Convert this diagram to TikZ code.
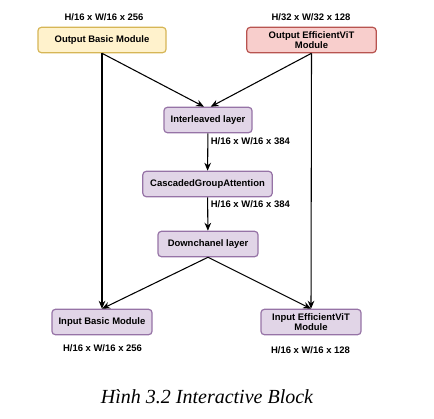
\documentclass[tikz,border=0pt]{standalone}
\usepackage{fontspec}
\setmainfont{Liberation Serif}
\setsansfont{Liberation Sans}
\usetikzlibrary{positioning, arrows.meta}
\definecolor{ylwfill}{HTML}{FFF2CC}
\definecolor{ylwline}{HTML}{D6B656}
\definecolor{redfill}{HTML}{F8CECC}
\definecolor{redline}{HTML}{B85450}
\definecolor{prpfill}{HTML}{E1D5E7}
\definecolor{prpline}{HTML}{9673A6}

\begin{document}
\begin{tikzpicture}[x=0.75pt, y=-0.75pt, ->, >={Stealth[length=6pt, width=5pt]}, thick,
  blk/.style={rectangle, rounded corners=2.5pt, draw=prpline, fill=prpfill, line width=0.9pt,
    font=\fontsize{7.1}{7.9}\selectfont\sffamily\bfseries, align=center, inner sep=1pt,
    minimum height=19pt, minimum width=75pt},
  dim/.style={font=\fontsize{7.1}{8}\selectfont\sffamily\bfseries, inner sep=1pt}]
  \useasboundingbox (0,0) rectangle (434,418);
  % top modules
  \node[blk, draw=ylwline, fill=ylwfill, minimum width=96pt] (obm) at (102,40) {Output Basic Module};
  \node[blk, draw=redline, fill=redfill, minimum width=97pt] (oev) at (311.5,40) {Output EfficientViT\\Module};
  \node[dim] (obmdim) at (104,17) {H/16 x W/16 x 256};
  \node[dim] (oevdim) at (311,17) {H/32 x W/32 x 128};
  % middle stack
  \node[blk, minimum width=66pt] (il) at (208,120) {Interleaved layer};
  \node[blk, minimum width=97pt] (cga) at (207.5,184) {CascadedGroupAttention};
  \node[blk] (dl) at (208,244) {Downchanel layer};
  \node[dim, anchor=west] (ildim) at (209,141) {H/16 x W/16 x 384};
  \node[dim, anchor=west] (cgadim) at (209,204) {H/16 x W/16 x 384};
  % bottom modules
  \node[blk] (ibm) at (102,322) {Input Basic Module};
  \node[blk] (iev) at (311,322) {Input EfficientViT\\Module};
  \node[dim] (ibmdim) at (102.5,348) {H/16 x W/16 x 256};
  \node[dim] (ievdim) at (310.5,350) {H/16 x W/16 x 128};
  \draw (obm.south) -- ([xshift=-3pt]il.north);
  \draw (oev.south) -- ([xshift=2pt]il.north);
  \draw (obm.south) -- (ibm.north);
  \draw (oev.south) -- (iev.north);
  \draw (il) -- (cga);
  \draw (cga) -- (dl);
  \draw (dl.south) -- (ibm.north);
  \draw (dl.south) -- (iev.north);
  \node[font=\fontsize{15}{18}\selectfont\itshape] (cap) at (207,397) {Hình 3.2 Interactive Block};
\end{tikzpicture}
\end{document}
